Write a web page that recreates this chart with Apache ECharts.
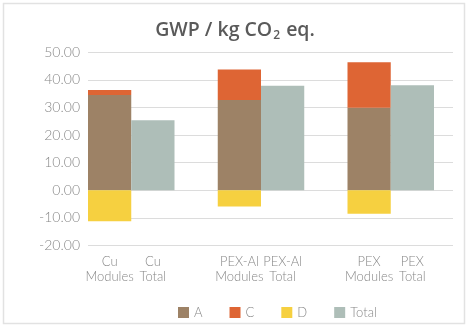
<!DOCTYPE html>
<html>
<head>
<meta charset="utf-8">
<script src="https://cdn.jsdelivr.net/npm/echarts@6/dist/echarts.min.js"></script>
<style>
html,body{margin:0;padding:0;background:#fff;}
#c{width:470px;height:331px;}
</style>
</head>
<body>
<div id="c"></div>
<script>
const categories = ["Cu\nModules", "Cu\nTotal", "", "PEX-Al\nModules", "PEX-Al\nTotal", "", "PEX\nModules", "PEX\nTotal"];
const seriesA = [34.5, null, null, 32.7, null, null, 29.9, null];
const seriesC = [1.8, null, null, 11.1, null, null, 16.5, null];
const seriesD = [-11.2, null, null, -5.9, null, null, -8.5, null];
const seriesTotal = [null, 25.4, null, null, 37.9, null, null, 38.1];
const yTicks = { min: -20, max: 50, interval: 10 };

const colors = { A: '#9d8266', C: '#de6534', D: '#f6d040', Total: '#aebeb8' };
const chart = echarts.init(document.getElementById('c'), null, { renderer: 'canvas' });
const gridTop = 52.3, gridHeight = 193.2;
const font = 'Lato';
chart.setOption({
  animation: false,
  backgroundColor: '#fff',
  title: {
    text: '{a|GWP / kg CO}{s|2}{a| eq.}',
    left: 'center',
    top: 13,
    textStyle: {
      rich: {
        a: { fontFamily: 'Open Sans', fontSize: 19.5, fontWeight: 600, color: '#5a5a5a' },
        s: { fontFamily: 'Open Sans', fontSize: 12, fontWeight: 600, color: '#5a5a5a', padding: [12, 1, 0, 1] }
      }
    }
  },
  graphic: [{
    type: 'rect', shape: { x: 3.5, y: 3.5, width: 461, height: 320 },
    style: { fill: 'none', stroke: '#e2e2e2', lineWidth: 1.5 }, silent: true, z: -1
  }],
  legend: {
    left: 173, top: 301,
    itemWidth: 11, itemHeight: 11, itemGap: 27,
    icon: 'rect',
    textStyle: { fontFamily: font, fontWeight: 300, fontSize: 13, color: '#888' },
    data: ['A', 'C', 'D', 'Total']
  },
  grid: [
    { left: 88, width: 365, top: gridTop, height: gridHeight },
    { left: 88, width: 346, top: gridTop, height: gridHeight }
  ],
  xAxis: [
    { type: 'category', gridIndex: 0, data: categories, show: false },
    {
      type: 'category', gridIndex: 1, data: categories,
      axisLine: { show: false }, axisTick: { show: false },
      axisLabel: { interval: 0, margin: 9, fontFamily: font, fontWeight: 300, fontSize: 13, lineHeight: 15, color: '#888' }
    }
  ],
  yAxis: [
    {
      type: 'value', gridIndex: 0, min: yTicks.min, max: yTicks.max, interval: yTicks.interval,
      axisLine: { show: false }, axisTick: { show: false },
      splitLine: { lineStyle: { color: '#dcdcdc', width: 1 } },
      axisLabel: { margin: 8, fontFamily: font, fontWeight: 300, fontSize: 14, color: '#888', formatter: v => v.toFixed(2) }
    },
    {
      type: 'value', gridIndex: 1, min: yTicks.min, max: yTicks.max, interval: yTicks.interval,
      show: false
    }
  ],
  series: [
    { name: 'A', type: 'bar', stack: 'm', xAxisIndex: 1, yAxisIndex: 1, barWidth: '100%', data: seriesA, itemStyle: { color: colors.A } },
    { name: 'C', type: 'bar', stack: 'm', xAxisIndex: 1, yAxisIndex: 1, barWidth: '100%', data: seriesC, itemStyle: { color: colors.C } },
    { name: 'D', type: 'bar', stack: 'm', xAxisIndex: 1, yAxisIndex: 1, barWidth: '100%', data: seriesD, itemStyle: { color: colors.D } },
    { name: 'Total', type: 'bar', stack: 'm', xAxisIndex: 1, yAxisIndex: 1, barWidth: '100%', data: seriesTotal, itemStyle: { color: colors.Total } }
  ]
});
</script>
</body>
</html>
